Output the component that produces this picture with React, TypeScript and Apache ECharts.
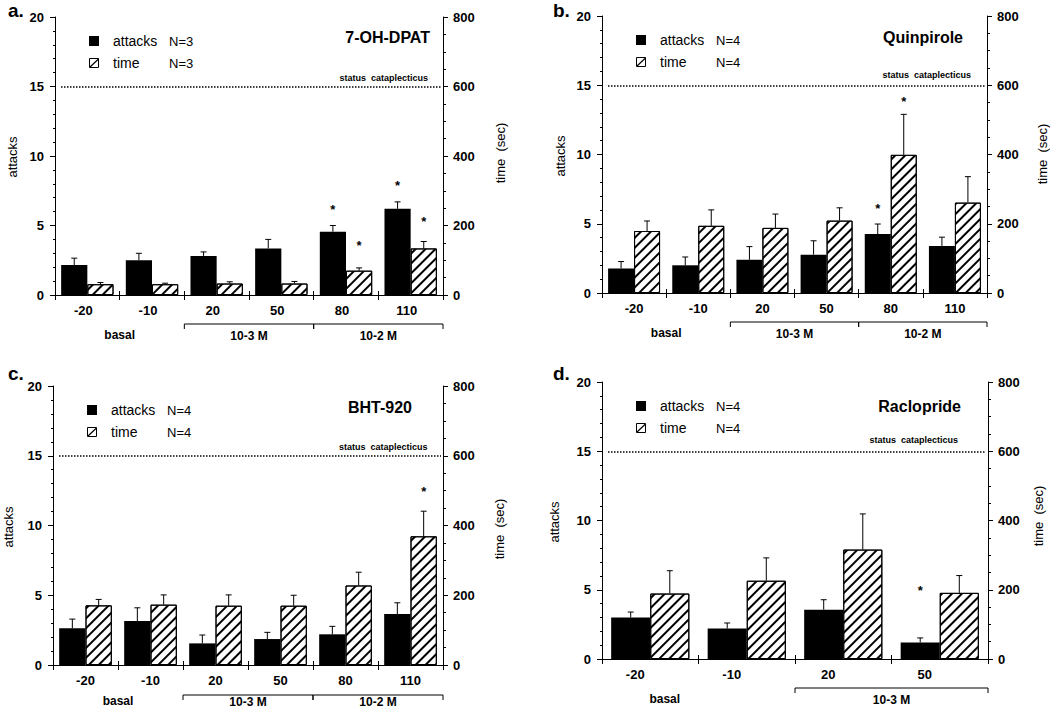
import React, { useEffect, useRef } from 'react';
import * as echarts from 'echarts';

const FONT = '"Liberation Sans", Arial, Helvetica, sans-serif';

// ---------- data ----------
const catsSix = ['-20', '-10', '20', '50', '80', '110'];
const catsFour = ['-20', '-10', '20', '50'];

// a. 7-OH-DPAT
const attacksA = [2.15, 2.5, 2.8, 3.35, 4.55, 6.2];
const attacksSemA = [0.5, 0.5, 0.3, 0.65, 0.45, 0.5];
const timeA = [31, 31, 33, 33, 70, 134];
const timeSemA = [5, 3, 5, 6, 8, 20];
const attacksStarA = [null, null, null, null, 6.35, 8.07];
const timeStarA = [null, null, null, null, 151, 220];

// b. Quinpirole
const attacksB = [1.77, 2.0, 2.4, 2.77, 4.26, 3.4];
const attacksSemB = [0.5, 0.6, 0.95, 1.0, 0.72, 0.63];
const timeB = [179, 194, 188, 209, 399, 261];
const timeSemB = [29, 46, 40, 37, 117, 75];
const attacksStarB = [null, null, null, null, 6.33, null];
const timeStarB = [null, null, null, null, 561, null];

// c. BHT-920
const attacksC = [2.63, 3.15, 1.55, 1.86, 2.2, 3.65];
const attacksSemC = [0.66, 0.95, 0.6, 0.48, 0.57, 0.81];
const timeC = [171, 173, 170, 170, 228, 369];
const timeSemC = [17, 28, 31, 30, 38, 72];
const attacksStarC = [null, null, null, null, null, null];
const timeStarC = [null, null, null, null, null, 506];

// d. Raclopride
const attacksD = [3.0, 2.2, 3.56, 1.2];
const attacksSemD = [0.39, 0.4, 0.72, 0.32];
const timeD = [189, 226, 316, 191];
const timeSemD = [66, 66, 103, 50];
const attacksStarD = [null, null, null, 5.17];
const timeStarD = [null, null, null, null];

const groupsSix = [
  { text: 'basal', at: 1 },
  { text: '10-3 M', from: 2, to: 4 },
  { text: '10-2 M', from: 4, to: 6 },
];
const groupsFour = [
  { text: 'basal', at: 0.65 },
  { text: '10-3 M', from: 2, to: 4 },
];

const GAP = 0.19;

const panels = [
  {
    letter: 'a.', drug: '7-OH-DPAT', n: 'N=3', cats: catsSix,
    att: attacksA, attSem: attacksSemA, time: timeA, timeSem: timeSemA, attStar: attacksStarA, timeStar: timeStarA,
    grid: { left: 55, top: 17, width: 388, height: 278 }, groups: groupsSix, labelPad: 8,
    letterXY: [8, 1], titleOff: [13, 20], statusOff: [15, 9],
    leftName: [12.7, 157], rightName: [500, 153], bracketY: 29, groupTextY: 40,
  },
  {
    letter: 'b.', drug: 'Quinpirole', n: 'N=4', cats: catsSix,
    att: attacksB, attSem: attacksSemB, time: timeB, timeSem: timeSemB, attStar: attacksStarB, timeStar: timeStarB,
    grid: { left: 602, top: 16, width: 385, height: 277 }, groups: groupsSix, labelPad: 0,
    letterXY: [553, 1], titleOff: [24, 21], statusOff: [16, 10],
    leftName: [560, 156], rightName: [1042, 154], bracketY: 29, groupTextY: 40,
  },
  {
    letter: 'c.', drug: 'BHT-920', n: 'N=4', cats: catsSix,
    att: attacksC, attSem: attacksSemC, time: timeC, timeSem: timeSemC, attStar: attacksStarC, timeStar: timeStarC,
    grid: { left: 53, top: 386, width: 390, height: 279 }, groups: groupsSix, labelPad: 0,
    letterXY: [8, 364], titleOff: [31, 21], statusOff: [15.5, 9],
    leftName: [8, 527], rightName: [499, 529], bracketY: 30, groupTextY: 36,
  },
  {
    letter: 'd.', drug: 'Raclopride', n: 'N=4', cats: catsFour,
    att: attacksD, attSem: attacksSemD, time: timeD, timeSem: timeSemD, attStar: attacksStarD, timeStar: timeStarD,
    grid: { left: 602, top: 382, width: 386, height: 277 }, groups: groupsFour, labelPad: 30,
    letterXY: [553, 364], titleOff: [27, 24], statusOff: [30, 11],
    leftName: [554, 522], rightName: [1038, 516], bracketY: 29, groupTextY: 40,
  },
];

function makeErr(sign: number) {
  return (params: any, api: any) => {
    const i = api.value(0);
    const v = api.value(1);
    const top = api.value(2);
    const star = api.value(3);
    const band = api.size([1, 0])[0];
    const bw = (band * (1 - GAP)) / 2;
    const base = api.coord([i, v]);
    const x = base[0] + (sign * bw) / 2;
    const yTop = api.coord([i, top])[1];
    const children: any[] = [
      { type: 'line', shape: { x1: x, y1: base[1], x2: x, y2: yTop }, style: { stroke: '#000', lineWidth: 1 } },
      { type: 'line', shape: { x1: x - 3, y1: yTop, x2: x + 3, y2: yTop }, style: { stroke: '#000', lineWidth: 1 } },
    ];
    if (star > 0) {
      const ys = api.coord([i, star])[1];
      children.push({
        type: 'text',
        x,
        y: ys + 3,
        style: { text: '*', fill: '#000', font: `bold 13px ${FONT}`, align: 'center', verticalAlign: 'middle' },
      });
    }
    return { type: 'group', children };
  };
}

function buildOption() {
  const grid: any[] = [];
  const xAxis: any[] = [];
  const yAxis: any[] = [];
  const series: any[] = [];
  const graphics: any[] = [];
  const axisLine = { show: true, lineStyle: { color: '#000', width: 1 } };
  const tickLine = { color: '#000', width: 1 };

  panels.forEach((p, pi) => {
    const g = p.grid;
    grid.push({ left: g.left, top: g.top, width: g.width, height: g.height, containLabel: false, outerBoundsMode: 'none' });
    xAxis.push({
      type: 'category', gridIndex: pi, data: p.cats, position: 'bottom', boundaryGap: true,
      axisLine, axisTick: { show: true, length: 5, inside: false, lineStyle: tickLine },
      axisLabel: { color: '#000', fontFamily: FONT, fontWeight: 'bold', fontSize: 13, margin: 9, padding: [0, p.labelPad, 0, 0] },
    });
    xAxis.push({
      type: 'category', gridIndex: pi, data: p.cats, position: 'top', boundaryGap: true,
      axisLine, axisTick: { show: true, length: 4, lineStyle: tickLine }, axisLabel: { show: false },
    });
    yAxis.push({
      type: 'value', gridIndex: pi, position: 'left', min: 0, max: 20, interval: 5,
      axisLine, axisTick: { show: true, length: 5, lineStyle: tickLine },
      minorTick: { show: true, splitNumber: 5, length: 2, lineStyle: tickLine },
      splitLine: { show: false },
      axisLabel: { color: '#000', fontFamily: FONT, fontWeight: 'bold', fontSize: 13, margin: 11 },
    });
    yAxis.push({
      type: 'value', gridIndex: pi, position: 'right', min: 0, max: 800, interval: 200,
      axisLine, axisTick: { show: true, length: 5, lineStyle: tickLine },
      minorTick: { show: true, splitNumber: 4, length: 3, lineStyle: tickLine },
      splitLine: { show: false },
      axisLabel: { color: '#000', fontFamily: FONT, fontWeight: 'bold', fontSize: 13, margin: 10 },
    });
    const xi = pi * 2;
    const yl = pi * 2;
    const yr = pi * 2 + 1;
    series.push({
      type: 'bar', name: 'attacks', xAxisIndex: xi, yAxisIndex: yl, data: p.att,
      barCategoryGap: `${GAP * 100}%`, barGap: '0%',
      itemStyle: { color: '#000' },
      markLine: {
        silent: true, symbol: ['none', 'none'], label: { show: false },
        lineStyle: { type: 'dotted', color: '#000', width: 1.5 },
        data: [[{ x: g.left + 6, yAxis: 15 }, { x: g.left + g.width - 2, yAxis: 15 }]],
      },
    });
    series.push({
      type: 'bar', name: 'time', xAxisIndex: xi, yAxisIndex: yr, data: p.time,
      barCategoryGap: `${GAP * 100}%`, barGap: '0%',
      itemStyle: {
        color: '#fff', borderColor: '#000', borderWidth: 1,
        decal: {
          symbol: 'rect', symbolSize: 1, color: '#000', backgroundColor: '#fff',
          dashArrayX: [1, 0], dashArrayY: [1.8, 4.6], rotation: -Math.PI / 4,
        },
      },
    });
    series.push({
      type: 'custom', xAxisIndex: xi, yAxisIndex: yl, renderItem: makeErr(-1), z: 5,
      data: p.att.map((v, i) => [i, v, v + p.attSem[i], p.attStar[i] == null ? -1 : p.attStar[i]]),
    });
    series.push({
      type: 'custom', xAxisIndex: xi, yAxisIndex: yr, renderItem: makeErr(1), z: 5,
      data: p.time.map((v, i) => [i, v, v + p.timeSem[i], p.timeStar[i] == null ? -1 : p.timeStar[i]]),
    });

    // ---- annotations ----
    const right = g.left + g.width;
    const bottom = g.top + g.height;
    const n = p.cats.length;
    const bx = (k: number) => g.left + (k * g.width) / n;
    graphics.push({ type: 'text', x: p.letterXY[0], y: p.letterXY[1], style: { text: p.letter, font: `bold 19px ${FONT}`, fill: '#000', align: 'left', verticalAlign: 'top' } });
    graphics.push({ type: 'text', x: right - p.titleOff[0], y: g.top + p.titleOff[1], style: { text: p.drug, font: `bold 16px ${FONT}`, fill: '#000', align: 'right', verticalAlign: 'middle' } });
    const y15 = g.top + g.height * 0.25;
    graphics.push({ type: 'text', x: right - p.statusOff[0], y: y15 - p.statusOff[1], style: { text: 'status  cataplecticus', font: `bold 9px ${FONT}`, fill: '#000', align: 'right', verticalAlign: 'middle' } });
    const lx = g.left + 34;
    const ly = g.top + 19;
    graphics.push({ type: 'rect', shape: { x: lx, y: ly, width: 10, height: 10 }, style: { fill: '#000' } });
    graphics.push({ type: 'rect', shape: { x: lx + 0.5, y: ly + 22.5, width: 9, height: 9 }, style: { fill: '#fff', stroke: '#000', lineWidth: 1 } });
    graphics.push({ type: 'line', shape: { x1: lx + 1, y1: ly + 31, x2: lx + 9.5, y2: ly + 23 }, style: { stroke: '#000', lineWidth: 1.2 } });
    graphics.push({ type: 'text', x: g.left + 58, y: ly + 5, style: { text: 'attacks', font: `14px ${FONT}`, fill: '#000', align: 'left', verticalAlign: 'middle' } });
    graphics.push({ type: 'text', x: g.left + 58, y: ly + 27, style: { text: 'time', font: `14px ${FONT}`, fill: '#000', align: 'left', verticalAlign: 'middle' } });
    graphics.push({ type: 'text', x: g.left + 114, y: ly + 5, style: { text: p.n, font: `13px ${FONT}`, fill: '#000', align: 'left', verticalAlign: 'middle' } });
    graphics.push({ type: 'text', x: g.left + 114, y: ly + 27, style: { text: p.n, font: `13px ${FONT}`, fill: '#000', align: 'left', verticalAlign: 'middle' } });
    graphics.push({ type: 'text', x: p.leftName[0], y: p.leftName[1], rotation: Math.PI / 2, style: { text: 'attacks', font: `13px ${FONT}`, fill: '#000', align: 'center', verticalAlign: 'middle' } });
    graphics.push({ type: 'text', x: p.rightName[0], y: p.rightName[1], rotation: Math.PI / 2, style: { text: 'time  (sec)', font: `13px ${FONT}`, fill: '#000', align: 'center', verticalAlign: 'middle' } });
    p.groups.forEach((gr: any) => {
      if (gr.at != null) {
        graphics.push({ type: 'text', x: bx(gr.at), y: bottom + p.groupTextY, style: { text: gr.text, font: `bold 12px ${FONT}`, fill: '#000', align: 'center', verticalAlign: 'middle' } });
      } else {
        const x1 = bx(gr.from);
        const x2 = bx(gr.to);
        const yb = bottom + p.bracketY;
        graphics.push({ type: 'polyline', shape: { points: [[x1, yb + 5], [x1, yb], [x2, yb], [x2, yb + 5]] }, style: { stroke: '#000', lineWidth: 1, fill: 'none' } });
        graphics.push({ type: 'text', x: (x1 + x2) / 2, y: bottom + p.groupTextY + 1, style: { text: gr.text, font: `bold 12px ${FONT}`, fill: '#000', align: 'center', verticalAlign: 'middle' } });
      }
    });
  });

  return {
    animation: false,
    backgroundColor: '#fff',
    textStyle: { fontFamily: FONT },
    grid, xAxis, yAxis, series,
    graphic: { elements: graphics },
  };
}

export default function App() {
  const ref = useRef<HTMLDivElement>(null);
  useEffect(() => {
    if (!ref.current) return;
    const chart = echarts.init(ref.current, null, { renderer: 'svg' });
    chart.setOption(buildOption() as any);
    return () => chart.dispose();
  }, []);
  return <div ref={ref} style={{ position: 'absolute', left: 0, top: 0, width: 1050, height: 709, background: '#fff' }} />;
}
